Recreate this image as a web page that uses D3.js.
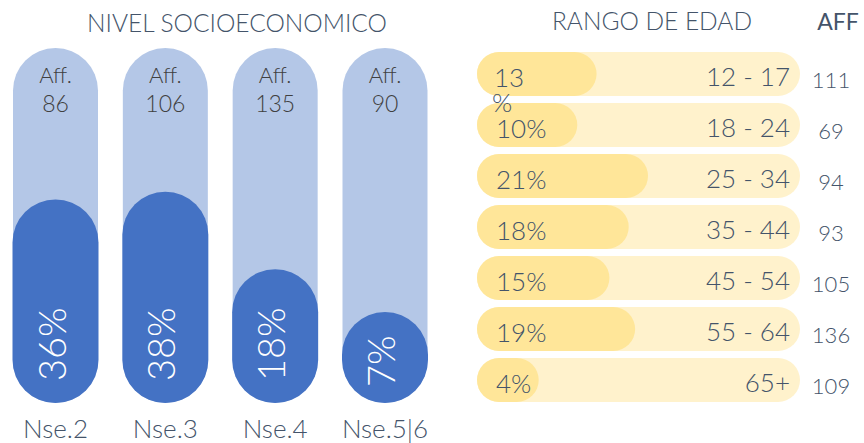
<!DOCTYPE html>
<html>
<head>
<meta charset="utf-8">
<script src="https://cdn.jsdelivr.net/npm/d3@7"></script>
<style>
  body { margin: 0; background: #fff; }
  svg { display: block; font-family: Lato, "Open Sans", sans-serif; font-weight: 300; }
</style>
</head>
<body>
<svg id="chart" width="864" height="443"></svg>
<script>
// nivel socioeconomico
const nseCats = ["Nse.2", "Nse.3", "Nse.4", "Nse.5|6"];
const nsePct = [36, 38, 18, 7];
const nseAff = [86, 106, 135, 90];

// rango de edad
const ageCats = ["12 - 17", "18 - 24", "25 - 34", "35 - 44", "45 - 54", "55 - 64", "65+"];
const agePct = [13, 10, 21, 18, 15, 19, 4];
const ageAff = [111, 69, 94, 93, 105, 136, 109];

const svg = d3.select("#chart");
const textColor = "#44546A";

// ---- left panel ----
const barW = 85;
const barTop = 48;
const barBottom = 403;

const x = d3.scalePoint()
  .domain(nseCats)
  .range([55.5, 385]);

const h = d3.scaleLinear()
  .domain([0, 40])
  .range([64, 219]);

svg.append("text")
  .attr("x", 237)
  .attr("y", 32)
  .attr("text-anchor", "middle")
  .style("font-size", "24.5px")
  .style("fill", textColor)
  .text("NIVEL SOCIOECONOMICO");

const nse = nseCats.map((c, i) => ({ cat: c, pct: nsePct[i], aff: nseAff[i] }));

const cols = svg.append("g").selectAll("g")
  .data(nse)
  .enter()
  .append("g");

cols.append("rect")
  .attr("x", d => x(d.cat) - barW / 2)
  .attr("y", barTop)
  .attr("width", barW)
  .attr("height", barBottom - barTop)
  .attr("rx", barW / 2)
  .attr("fill", "#B4C7E7");

cols.append("rect")
  .attr("x", d => x(d.cat) - barW / 2 - 0.5)
  .attr("y", d => barBottom - h(d.pct))
  .attr("width", barW + 1)
  .attr("height", d => h(d.pct))
  .attr("rx", (barW + 1) / 2)
  .attr("fill", "#4472C4");

cols.append("text")
  .attr("x", d => x(d.cat))
  .attr("y", 83)
  .attr("text-anchor", "middle")
  .style("font-size", "22px")
  .style("fill", "#404040")
  .text("Aff.");

cols.append("text")
  .attr("x", d => x(d.cat))
  .attr("y", 112)
  .attr("text-anchor", "middle")
  .style("font-size", "23px")
  .style("fill", "#404040")
  .text(d => d.aff);

cols.append("text")
  .attr("transform", d => `translate(${x(d.cat) + 10},${d.pct < 10 ? 387 : 381}) rotate(-90)`)
  .attr("text-anchor", "start")
  .style("font-size", "38px")
  .style("fill", "#fff")
  .text(d => d.pct + "%");

cols.append("text")
  .attr("x", d => x(d.cat))
  .attr("y", 438)
  .attr("text-anchor", "middle")
  .style("font-size", "26px")
  .style("fill", textColor)
  .text(d => d.cat);

// ---- right panel ----
const rowLeft = 477;
const rowRight = 800;

const y = d3.scaleBand()
  .domain(ageCats)
  .range([52, 402])
  .paddingInner(0.14);

const w = d3.scaleLinear()
  .domain([0, 21])
  .range([36, 171]);

svg.append("text")
  .attr("x", 652)
  .attr("y", 30)
  .attr("text-anchor", "middle")
  .style("font-size", "24.5px")
  .style("fill", textColor)
  .text("RANGO DE EDAD");

svg.append("text")
  .attr("x", 838)
  .attr("y", 30)
  .attr("text-anchor", "middle")
  .style("font-size", "23px")
  .style("font-weight", 400)
  .style("fill", textColor)
  .text("AFF");

const ages = ageCats.map((c, i) => ({ cat: c, pct: agePct[i], aff: ageAff[i], i }));

const pills = svg.append("g").selectAll("g")
  .data(ages)
  .enter()
  .append("g");

pills.append("rect")
  .attr("x", rowLeft)
  .attr("y", d => y(d.cat))
  .attr("width", rowRight - rowLeft)
  .attr("height", y.bandwidth())
  .attr("rx", y.bandwidth() / 2)
  .attr("fill", "#FFF2CC");

pills.append("rect")
  .attr("x", rowLeft)
  .attr("y", d => y(d.cat))
  .attr("width", d => w(d.pct))
  .attr("height", y.bandwidth())
  .attr("rx", y.bandwidth() / 2)
  .attr("fill", "#FFE699");

// texts in their own layer, above all pills
const labels = svg.append("g").selectAll("g")
  .data(ages)
  .enter()
  .append("g");

const pctText = labels.append("text")
  .attr("x", 496)
  .attr("y", d => y(d.cat) + 35)
  .style("font-size", "26px")
  .style("fill", textColor);

// first label wraps onto a second line like in the original
pctText.each(function (d) {
  const t = d3.select(this);
  if (d.i === 0) {
    t.append("tspan").attr("x", 494).text(d.pct);
    t.append("tspan").attr("x", 492).attr("dy", 25).text("%");
  } else {
    t.text(d.pct + "%");
  }
});

labels.append("text")
  .attr("x", 790)
  .attr("y", d => y(d.cat) + 34)
  .attr("text-anchor", "end")
  .style("font-size", "26px")
  .style("fill", textColor)
  .text(d => d.cat);

labels.append("text")
  .attr("x", 831)
  .attr("y", d => y(d.cat) + 36)
  .attr("text-anchor", "middle")
  .style("font-size", "22px")
  .style("fill", textColor)
  .text(d => d.aff);
</script>
</body>
</html>
